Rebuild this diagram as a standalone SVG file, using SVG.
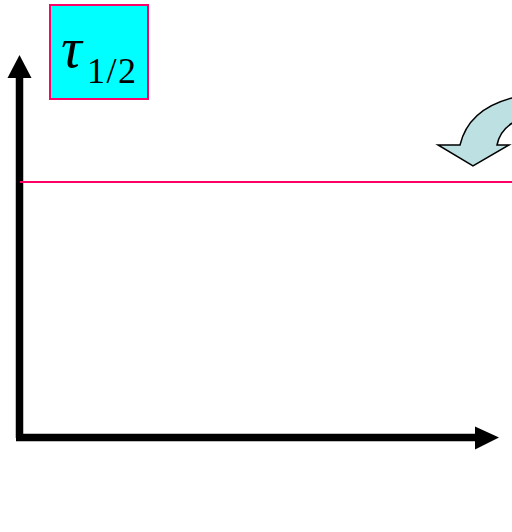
<svg xmlns="http://www.w3.org/2000/svg" width="512" height="532" viewBox="0 0 512 532">
<style>
.axis{stroke:#000;stroke-width:7.5;fill:none}
.head{fill:#000}
.lbl{font-family:"Liberation Serif","Times New Roman",serif;fill:#000}
</style>
<rect width="512" height="532" fill="#fff"/>
<g id="connectors">
<line class="axis" x1="19.5" y1="438" x2="19.5" y2="76"/>
<polygon class="head" points="19.5,55 7.5,78 31.5,78"/>
<line class="axis" x1="16" y1="437.5" x2="477" y2="437.5"/>
<polygon class="head" points="499,437.5 475,426.5 475,449.5"/>
<line x1="20" y1="182" x2="512" y2="182" stroke="#FF0066" stroke-width="2"/>
</g>
<g id="curved-arrow">
<path d="M438,145 L460,145 C466,120 485,104 516,97 L516,121 C506,126 499,135 497,145 L509,145 L473,166 Z" fill="#BDE0E3" stroke="#000" stroke-width="1.5" stroke-linejoin="miter"/>
</g>
<g id="tau-label">
<rect x="50" y="5" width="98" height="94" fill="#00FFFF" stroke="#FF0066" stroke-width="2"/>
<text class="lbl" x="61" y="67" font-size="58" font-style="italic">τ</text>
<text class="lbl" x="87" y="83" font-size="36" letter-spacing="1.5">1/2</text>
</g>
</svg>
